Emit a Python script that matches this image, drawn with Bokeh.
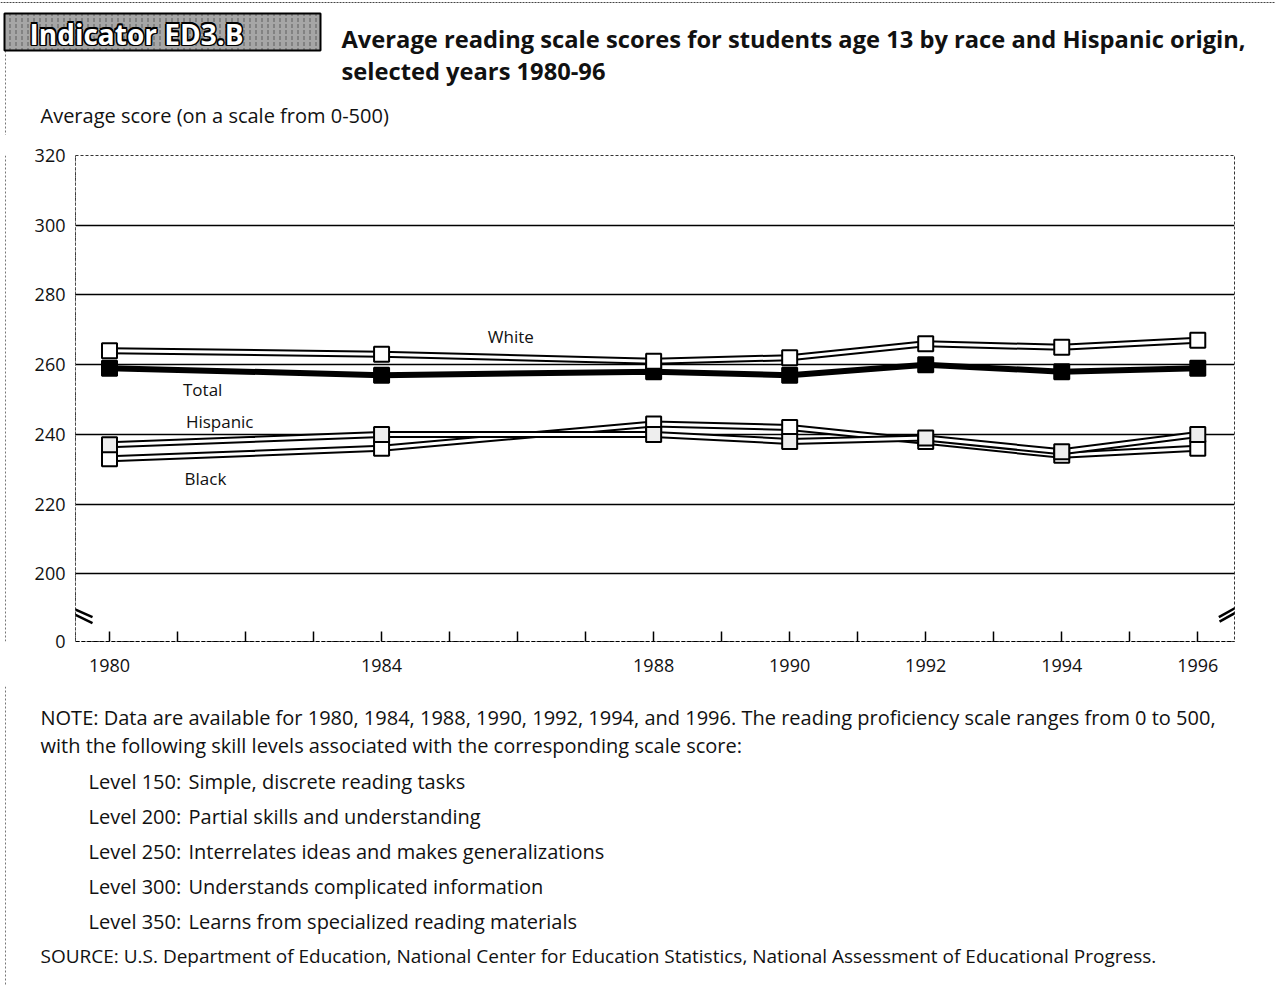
from bokeh.plotting import figure
from bokeh.models import Range1d, FixedTicker, Arrow
from bokeh.layouts import column, row
from bokeh.embed import file_html
from bokeh.resources import INLINE
from bokeh.core.properties import value

# ---------------- data ----------------
years = [1980, 1984, 1988, 1990, 1992, 1994, 1996]
white = [264, 263, 261, 262, 266, 265, 267]
total = [259, 257, 258, 257, 260, 258, 259]
black = [233, 236, 243, 242, 238, 234, 236]
hispanic = [237, 240, 240, 238, 239, 235, 240]
series_names = ["White", "Total", "Hispanic", "Black"]
x_ticks = list(range(1980, 1997))
y_ticks = [180.7, 200, 220, 240, 260, 280, 300, 320]
y_tick_labels = ["0", "200", "220", "240", "260", "280", "300", "320"]
grid_ticks = [200, 220, 240, 260, 280, 300]

header_label = "Indicator ED3.B"
title_lines = ["Average reading scale scores for students age 13 by race and Hispanic origin,",
               "selected years 1980-96"]
y_label = "Average score (on a scale from 0-500)"
note_lines = ["NOTE: Data are available for 1980, 1984, 1988, 1990, 1992, 1994, and 1996. The reading proficiency scale ranges from 0 to 500,",
              "with the following skill levels associated with the corresponding scale score:"]
level_names = ["Level 150:", "Level 200:", "Level 250:", "Level 300:", "Level 350:"]
level_descs = ["Simple, discrete reading tasks", "Partial skills and understanding",
               "Interrelates ideas and makes generalizations", "Understands complicated information",
               "Learns from specialized reading materials"]
source_line = "SOURCE: U.S. Department of Education, National Center for Education Statistics, National Assessment of Educational Progress."

FONT = "Open Sans"
W = 1275
HEAD_H = 135
MAIN_H = 551
FOOT_H = 300
STRIP_W = 14


def blank(width, height, flip=True):
    f = figure(width=width, height=height, output_backend="svg", toolbar_location=None,
               x_range=Range1d(0, width),
               y_range=Range1d(height, 0) if flip else Range1d(0, height),
               x_axis_type=None, y_axis_type=None, min_border=0)
    f.grid.visible = False
    f.outline_line_color = None
    f.background_fill_color = "white"
    f.border_fill_color = "white"
    return f


# ---------------- header ----------------
h = blank(W, HEAD_H)
h.line([0, W], [2, 2], line_color="#444", line_width=1, line_dash="2 1")
h.line([5, 5], [50, HEAD_H], line_color="#777", line_width=1, line_dash="2 2")
h.quad(left=[4], right=[320], top=[13], bottom=[50], fill_color="#a6a6a6",
       line_color="black", line_width=2, hatch_pattern=":", hatch_color="#222",
       hatch_alpha=0.55, hatch_scale=6)
for dx, dy in [(-1.6, 0), (1.6, 0), (0, -1.6), (0, 1.6), (-1.2, -1.2), (1.2, 1.2), (-1.2, 1.2), (1.2, -1.2)]:
    h.text(x=[29], y=[33], text=[header_label], x_offset=dx, y_offset=dy,
           text_font=value(FONT), text_font_size="28px", text_font_style="bold",
           text_color="black", text_baseline="middle", text_align="left")
h.text(x=[29], y=[33], text=[header_label], text_font=value(FONT), text_font_size="28px",
       text_font_style="bold", text_color="white", text_baseline="middle", text_align="left")
h.text(x=[341, 341], y=[38, 70], text=title_lines, text_font=value(FONT), text_font_size="23.7px",
       text_font_style="bold", text_color="#111", text_baseline="middle", text_align="left")
h.text(x=[40], y=[115], text=[y_label], text_font=value(FONT), text_font_size="20px",
       text_color="#111", text_baseline="middle", text_align="left")

# ---------------- main chart ----------------
p = figure(width=W - STRIP_W, height=MAIN_H, output_backend="svg", toolbar_location=None,
           x_range=Range1d(1979.5, 1996.54), y_range=Range1d(180.6, 320),
           min_border_left=61, min_border_right=41, min_border_top=20, min_border_bottom=45)
p.background_fill_color = "white"
p.border_fill_color = "white"
p.outline_line_color = "#333"
p.outline_line_dash = "3 2"
p.outline_line_width = 1

p.xgrid.visible = False
p.ygrid.ticker = FixedTicker(ticks=grid_ticks)
p.ygrid.grid_line_color = "black"
p.ygrid.grid_line_width = 1.4

p.xaxis.ticker = FixedTicker(ticks=x_ticks)
p.xaxis.major_label_overrides = {t: (str(t) if t in years else "") for t in x_ticks}
p.xaxis.major_tick_in = 10
p.xaxis.major_tick_out = 0
p.xaxis.minor_tick_line_color = None
p.xaxis.major_tick_line_color = "black"
p.xaxis.major_tick_line_width = 1.5
p.xaxis.axis_line_color = "black"
p.xaxis.axis_line_dash = "4 2"
p.xaxis.axis_line_width = 1.2
p.xaxis.major_label_text_font = FONT
p.xaxis.major_label_text_font_size = "18px"
p.xaxis.major_label_text_color = "#111"
p.xaxis.major_label_standoff = 17

p.yaxis.ticker = FixedTicker(ticks=y_ticks)
p.yaxis.major_label_overrides = {t: l for t, l in zip(y_ticks, y_tick_labels)}
p.yaxis.major_tick_in = 0
p.yaxis.major_tick_out = 0
p.yaxis.minor_tick_line_color = None
p.yaxis.axis_line_color = "#555"
p.yaxis.axis_line_dash = "2 2"
p.yaxis.axis_line_width = 1
p.yaxis.major_label_text_font = FONT
p.yaxis.major_label_text_font_size = "18px"
p.yaxis.major_label_text_color = "#111"
p.yaxis.major_label_standoff = 10

# outlined (double) lines
for ys in [black, hispanic]:
    p.line(years, ys, line_color="black", line_width=7)
    p.line(years, ys, line_color="white", line_width=3)
for ys, fill in [(black, "white"), (hispanic, "#eeeeee")]:
    p.scatter(years, ys, marker="square", size=15, fill_color=fill, line_color="black", line_width=2)

p.line(years, total, line_color="black", line_width=6)
p.scatter(years, total, marker="square", size=15, fill_color="black", line_color="black", line_width=2)

p.line(years, white, line_color="black", line_width=7)
p.line(years, white, line_color="white", line_width=3)
p.scatter(years, white, marker="square", size=15, fill_color="white", line_color="black", line_width=2)

# series labels
label_x = [1985.9, 1981.37, 1981.62, 1981.41]
label_y = [268.1, 252.9, 243.7, 227.3]
p.text(x=label_x, y=label_y, text=series_names, text_font=value(FONT), text_font_size="17px",
       text_color="#111", text_align="center", text_baseline="middle")

# axis-break marks
for (x0, y0, x1, y1) in [(1979.28, 191.6, 1979.75, 187.6), (1979.30, 190.1, 1979.75, 185.9),
                         (1996.31, 187.6, 1996.79, 192.8), (1996.32, 186.3, 1996.79, 191.4)]:
    p.add_layout(Arrow(end=None, x_start=x0, y_start=y0, x_end=x1, y_end=y1,
                       line_color="black", line_width=2.5))

strip = blank(STRIP_W, MAIN_H)
strip.line([5, 5], [0, MAIN_H], line_color="#777", line_width=1, line_dash="2 2")

# ---------------- footer ----------------
f = blank(W, FOOT_H)
f.line([5, 5], [0, FOOT_H], line_color="#777", line_width=1, line_dash="2 2")
f.text(x=[40, 40], y=[31, 59], text=note_lines, text_font=value(FONT), text_font_size="20px",
       text_color="#111", text_baseline="middle", text_align="left")
lvl_y = [95, 130, 165, 200, 235]
f.text(x=[88] * 5, y=lvl_y, text=level_names, text_font=value(FONT), text_font_size="20px",
       text_color="#111", text_baseline="middle", text_align="left")
f.text(x=[188] * 5, y=lvl_y, text=level_descs, text_font=value(FONT), text_font_size="20px",
       text_color="#111", text_baseline="middle", text_align="left")
f.text(x=[40], y=[269], text=[source_line], text_font=value(FONT), text_font_size="19px",
       text_color="#111", text_baseline="middle", text_align="left")

layout = column(h, row(strip, p, spacing=0), f, spacing=0)
open("out.html", "w").write(file_html(layout, INLINE))
